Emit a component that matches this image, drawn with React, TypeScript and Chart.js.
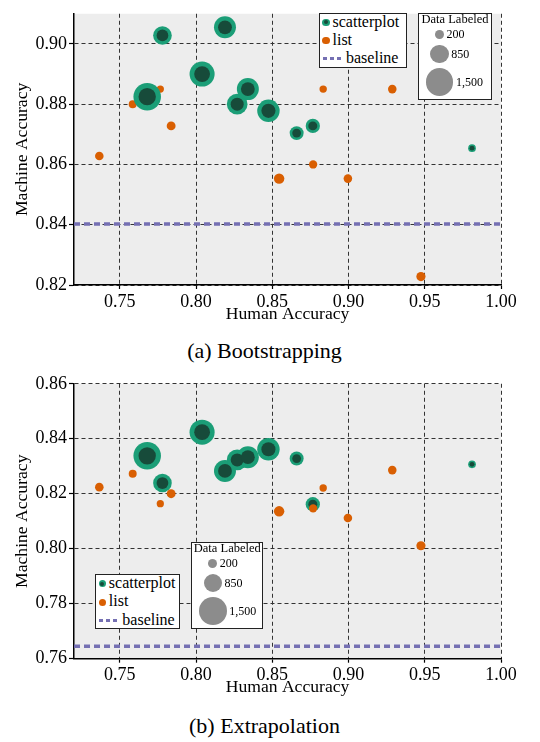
import React, { useEffect, useRef } from "react";
import { Chart, registerables } from "chart.js";
Chart.register(...registerables);

const FONT = '"Liberation Serif", "Times New Roman", Times, serif';

// ---- data ----
const xRange = [0.72, 1.0];
const xTicks = [0.75, 0.8, 0.85, 0.9, 0.95, 1.0];

const humanAccScatter = [0.768, 0.778, 0.804, 0.819, 0.827, 0.834, 0.8475, 0.866, 0.8766, 0.981];
const labeledScatter = [1470, 860, 1300, 1090, 1000, 1090, 1120, 540, 560, 110];
const humanAccList = [0.7366, 0.7585, 0.7766, 0.7837, 0.8545, 0.8768, 0.8834, 0.8996, 0.9287, 0.9475];
const labeledList = [170, 130, 80, 190, 300, 150, 90, 170, 170, 210];

const bootScatter = [0.8825, 0.9028, 0.89, 0.9055, 0.88, 0.885, 0.8778, 0.8704, 0.8728, 0.8654];
const bootList = [0.8628, 0.88, 0.885, 0.8728, 0.8553, 0.86, 0.885, 0.8553, 0.885, 0.8228];
const bootBaseline = 0.8402;
const bootYRange = [0.82, 0.91];
const bootYTicks = [0.82, 0.84, 0.86, 0.88, 0.9];

const extraScatter = [0.8338, 0.8239, 0.8424, 0.8283, 0.8323, 0.8333, 0.8362, 0.8328, 0.8162, 0.8307];
const extraList = [0.8224, 0.8273, 0.8164, 0.82, 0.8136, 0.8147, 0.8221, 0.8112, 0.8286, 0.8011];
const extraBaseline = 0.7645;
const extraYRange = [0.76, 0.86];
const extraYTicks = [0.76, 0.78, 0.8, 0.82, 0.84, 0.86];

const sizeLegendValues = [200, 850, 1500];
const seriesNames = ["scatterplot", "list", "baseline"];
const xTitle = "Human Accuracy";
const yTitle = "Machine Accuracy";
const captions = ["(a) Bootstrapping", "(b) Extrapolation"];

// ---- style ----
const GREEN = "#1b9e77";
const CORE = "#174b3a";
const ORANGE = "#d95f02";
const PURPLE = "#7570b3";
const GREY = "#8c8c8c";
const CORE_FRAC = 0.63;
const sizeToRadius = (n: number) => 3.04 + 0.0073 * n;

const plotBg = {
  id: "plotBg",
  beforeDraw(chart: any) {
    const { ctx, chartArea } = chart;
    if (!chartArea) return;
    ctx.save();
    ctx.fillStyle = "#ededed";
    ctx.fillRect(chartArea.left, chartArea.top, chartArea.right - chartArea.left, chartArea.bottom - chartArea.top);
    ctx.restore();
  },
};

type PanelProps = {
  top: number;
  height: number;
  padTop: number;
  padBottom: number;
  xHeight: number;
  yRange: number[];
  yTicks: number[];
  scatterY: number[];
  listY: number[];
  baseline: number;
  listOnTop: boolean;
};

function Panel(p: PanelProps) {
  const ref = useRef<HTMLCanvasElement | null>(null);
  useEffect(() => {
    if (!ref.current) return;
    const scatterPts = humanAccScatter.map((x, i) => ({ x, y: p.scatterY[i], r: sizeToRadius(labeledScatter[i]) }));
    const corePts = humanAccScatter.map((x, i) => ({ x, y: p.scatterY[i], r: sizeToRadius(labeledScatter[i]) * CORE_FRAC }));
    const listPts = humanAccList.map((x, i) => ({ x, y: p.listY[i], r: sizeToRadius(labeledList[i]) }));
    const tickFont = { family: FONT, size: 18 };
    const titleFont = { family: FONT, size: 17.6 };
    const chart = new Chart(ref.current, {
      type: "bubble",
      data: {
        datasets: [
          {
            type: "line",
            label: seriesNames[2],
            data: [
              { x: xRange[0], y: p.baseline },
              { x: xRange[1], y: p.baseline },
            ],
            borderColor: PURPLE,
            borderWidth: 3.5,
            borderDash: [6, 4],
            borderCapStyle: "butt",
            pointRadius: 0,
            fill: false,
            order: 5,
          } as any,
          {
            label: seriesNames[1],
            data: listPts,
            backgroundColor: ORANGE,
            borderWidth: 0,
            order: p.listOnTop ? 0 : 3,
          },
          {
            label: seriesNames[0],
            data: scatterPts,
            backgroundColor: GREEN,
            borderWidth: 0,
            order: 2,
          },
          {
            label: seriesNames[0] + " core",
            data: corePts,
            backgroundColor: CORE,
            borderWidth: 0,
            order: 1,
          },
        ],
      },
      options: {
        animation: false,
        responsive: false,
        layout: { padding: { left: 0, right: 39, top: p.padTop, bottom: p.padBottom } },
        plugins: { legend: { display: false }, tooltip: { enabled: false } },
        events: [],
        scales: {
          x: {
            type: "linear",
            min: xRange[0],
            max: xRange[1],
            afterBuildTicks: (s: any) => {
              s.ticks = xTicks.map((v) => ({ value: v }));
            },
            afterFit: (s: any) => {
              s.height = p.xHeight;
            },
            ticks: {
              callback: (v: any) => Number(v).toFixed(2),
              color: "#000",
              font: tickFont,
              padding: 2,
              maxRotation: 0,
              autoSkip: false,
            },
            grid: { color: "#333", lineWidth: 1, tickLength: 4, tickColor: "#000", tickWidth: 1.2 },
            border: { display: true, color: "#000", width: 1.5, dash: [4, 3] },
            title: { display: true, text: xTitle, color: "#000", font: titleFont, padding: { top: 0, bottom: 0 } },
          },
          y: {
            type: "linear",
            min: p.yRange[0],
            max: p.yRange[1],
            afterBuildTicks: (s: any) => {
              s.ticks = p.yTicks.map((v) => ({ value: v }));
            },
            afterFit: (s: any) => {
              s.width = 74;
            },
            ticks: {
              callback: (v: any) => Number(v).toFixed(2),
              color: "#000",
              font: tickFont,
              padding: 2,
              autoSkip: false,
            },
            grid: { color: "#333", lineWidth: 1, tickLength: 5, tickColor: "#000", tickWidth: 1.2 },
            border: { display: true, color: "#000", width: 1.5, dash: [4, 3] },
            title: { display: true, text: yTitle, color: "#000", font: titleFont, padding: { top: 11.7, bottom: 0 } },
          },
        },
      } as any,
      plugins: [plotBg],
    });
    return () => chart.destroy();
  }, []);
  return (
    <canvas
      ref={ref}
      width={540}
      height={p.height}
      style={{ position: "absolute", left: 0, top: p.top, width: 540, height: p.height, display: "block" }}
    />
  );
}

function SeriesLegend({ left, top, width }: { left: number; top: number; width: number }) {
  const text: React.CSSProperties = {
    position: "absolute",
    fontFamily: FONT,
    fontSize: 16,
    lineHeight: "16px",
    color: "#000",
    whiteSpace: "nowrap",
  };
  return (
    <div
      style={{
        position: "absolute",
        left,
        top,
        width,
        height: 55,
        background: "#fff",
        outline: "1.5px solid #222",
        outlineOffset: -1.5,
      }}
    >
      <div style={{ position: "absolute", left: 7 - 3.6, top: 9.5 - 3.6, width: 7.2, height: 7.2, borderRadius: "50%", background: GREEN }} />
      <div style={{ position: "absolute", left: 7 - 2.2, top: 9.5 - 2.2, width: 4.4, height: 4.4, borderRadius: "50%", background: CORE }} />
      <div style={{ ...text, left: 13.5, top: 1.1 }}>{seriesNames[0]}</div>
      <div style={{ position: "absolute", left: 7 - 3.6, top: 28 - 3.6, width: 7.2, height: 7.2, borderRadius: "50%", background: ORANGE }} />
      <div style={{ ...text, left: 13.5, top: 19.1 }}>{seriesNames[1]}</div>
      <div
        style={{
          position: "absolute",
          left: 4,
          top: 46 - 1.5,
          width: 18,
          height: 3,
          background: `repeating-linear-gradient(to right, ${PURPLE} 0 4px, transparent 4px 7px)`,
        }}
      />
      <div style={{ ...text, left: 27, top: 37.6 }}>{seriesNames[2]}</div>
    </div>
  );
}

function SizeLegend({ left, top, width }: { left: number; top: number; width: number }) {
  const cx = 21.5;
  const cys = [21.6, 41.2, 69];
  return (
    <div
      style={{
        position: "absolute",
        left,
        top,
        width,
        height: 87.5,
        background: "#fff",
        outline: "1.5px solid #222",
        outlineOffset: -1.5,
      }}
    >
      <div
        style={{
          position: "absolute",
          left: 0,
          width: "100%",
          top: -0.2,
          textAlign: "center",
          fontFamily: FONT,
          fontSize: 12.5,
          lineHeight: "12.5px",
          whiteSpace: "nowrap",
          color: "#000",
        }}
      >
        Data Labeled
      </div>
      {sizeLegendValues.map((n, i) => {
        const r = sizeToRadius(n);
        return (
          <React.Fragment key={n}>
            <div
              style={{
                position: "absolute",
                left: cx - r,
                top: cys[i] - r,
                width: 2 * r,
                height: 2 * r,
                borderRadius: "50%",
                background: GREY,
              }}
            />
            <div
              style={{
                position: "absolute",
                left: cx + r + 2.5,
                top: cys[i] + 4 - 10,
                fontFamily: FONT,
                fontSize: 12,
                lineHeight: "12px",
                whiteSpace: "nowrap",
                color: "#000",
              }}
            >
              {n.toLocaleString("en-US")}
            </div>
          </React.Fragment>
        );
      })}
    </div>
  );
}

function Caption({ text, top }: { text: string; top: number }) {
  return (
    <div
      style={{
        position: "absolute",
        left: 264.5,
        top,
        transform: "translateX(-50%)",
        fontFamily: FONT,
        fontSize: 22,
        lineHeight: "22px",
        whiteSpace: "nowrap",
        color: "#000",
      }}
    >
      {text}
    </div>
  );
}

export default function App() {
  return (
    <div style={{ position: "absolute", left: 0, top: 0, width: 540, height: 742, background: "#fff", overflow: "hidden" }}>
      <Panel
        top={0}
        height={330}
        padTop={5}
        padBottom={5.4}
        xHeight={39.6}
        yRange={bootYRange}
        yTicks={bootYTicks}
        scatterY={bootScatter}
        listY={bootList}
        baseline={bootBaseline}
        listOnTop={false}
      />
      <Panel
        top={370}
        height={330}
        padTop={9.3}
        padBottom={2.1}
        xHeight={39.2}
        yRange={extraYRange}
        yTicks={extraYTicks}
        scatterY={extraScatter}
        listY={extraList}
        baseline={extraBaseline}
        listOnTop={true}
      />
      <SeriesLegend left={319} top={12.7} width={88} />
      <SizeLegend left={418} top={12.7} width={74} />
      <SeriesLegend left={95.3} top={574.3} width={85} />
      <SizeLegend left={191.3} top={541.7} width={72} />
      <Caption text={captions[0]} top={339.6} />
      <Caption text={captions[1]} top={714.6} />
    </div>
  );
}
